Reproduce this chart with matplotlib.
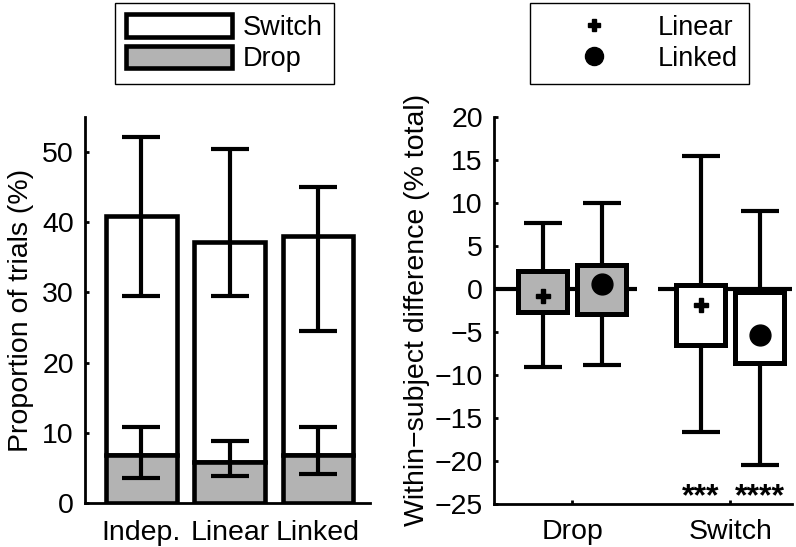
"""Stacked trial proportions and within-subject differences, two panels."""

import matplotlib

matplotlib.use("Agg")
import matplotlib.pyplot as plt
from matplotlib.lines import Line2D
from matplotlib.patches import Patch

plt.rcParams["font.family"] = ["Liberation Sans", "DejaVu Sans"]
plt.rcParams["font.size"] = 20.5

# left panel: proportion of trials (%)
CONDITIONS = ["Indep.", "Linear", "Linked"]
DROP_PCT = [6.8, 5.9, 6.8]
SWITCH_PCT = [34.1, 31.3, 31.3]
DROP_ERR_LO = [3.5, 3.9, 4.2]
DROP_ERR_HI = [10.8, 8.9, 10.9]
TOTAL_ERR_LO = [29.5, 29.5, 24.5]
TOTAL_ERR_HI = [52.2, 50.4, 45.0]

# right panel: within-subject difference (% total), [outcome][model]
OUTCOMES = ["Drop", "Switch"]
MODELS = ["Linear", "Linked"]
BOX_Q1 = [[-2.75, -2.9], [-6.5, -8.6]]
BOX_Q3 = [[2.1, 2.8], [0.47, -0.4]]
WHISK_LO = [[-9.1, -8.8], [-16.6, -20.5]]
WHISK_HI = [[7.6, 10.0], [15.4, 9.0]]
MEANS = [[-0.8, 0.6], [-1.9, -5.4]]
STARS = [["", ""], ["***", "****"]]

GRAY = "#b3b3b3"
MARKERS = {"Linear": dict(marker="P", markersize=10),
           "Linked": dict(marker="o", markersize=15)}
LEGEND_STYLE = dict(
    loc="upper left", borderaxespad=0, fancybox=False, edgecolor="black",
    framealpha=1, fontsize=19.5, handlelength=3.9, handleheight=0.9,
    handletextpad=0.4, borderpad=0.42, labelspacing=0.18,
)


def style_axis(axis):
    for side in ("top", "right"):
        axis.spines[side].set_visible(False)
    for side in ("left", "bottom"):
        axis.spines[side].set_linewidth(2)
    axis.tick_params(direction="in", length=3, width=2, pad=8)


def main():
    figure = plt.figure(figsize=(7.96, 5.47), dpi=100)
    figure.patch.set_facecolor("white")

    # ---- left panel
    left = figure.add_axes([0.1068, 0.0804, 0.358, 0.7057])
    style_axis(left)
    x = list(range(1, len(CONDITIONS) + 1))
    totals = [d + s for d, s in zip(DROP_PCT, SWITCH_PCT)]
    left.bar(x, SWITCH_PCT, bottom=DROP_PCT, width=0.8, color="white",
             edgecolor="black", linewidth=3.3, zorder=2)
    left.bar(x, DROP_PCT, width=0.8, color=GRAY,
             edgecolor="black", linewidth=3.3, zorder=2)
    left.errorbar(x, totals,
                  yerr=[[t - lo for t, lo in zip(totals, TOTAL_ERR_LO)],
                        [hi - t for t, hi in zip(totals, TOTAL_ERR_HI)]],
                  fmt="none", ecolor="black", elinewidth=3, capsize=14,
                  capthick=3, zorder=3)
    left.errorbar(x, DROP_PCT,
                  yerr=[[d - lo for d, lo in zip(DROP_PCT, DROP_ERR_LO)],
                        [hi - d for d, hi in zip(DROP_PCT, DROP_ERR_HI)]],
                  fmt="none", ecolor="black", elinewidth=3, capsize=14,
                  capthick=3, zorder=3)
    left.set_xlim(0.36, 3.59)
    left.set_ylim(0, 55)
    left.set_yticks([0, 10, 20, 30, 40, 50])
    left.set_xticks(x)
    left.set_xticklabels(CONDITIONS)
    left.tick_params(axis="x", length=0, pad=12)
    left.set_ylabel("Proportion of trials (%)", labelpad=6)

    figure.legend(
        handles=[Patch(facecolor="white", edgecolor="black", linewidth=3.3,
                       label="Switch"),
                 Patch(facecolor=GRAY, edgecolor="black", linewidth=3.3,
                       label="Drop")],
        bbox_to_anchor=(0.1445, 0.9945), **LEGEND_STYLE,
    ).get_frame().set_linewidth(1)

    # ---- right panel
    right = figure.add_axes([0.6206, 0.0786, 0.3744, 0.7081])
    style_axis(right)
    offsets = [-0.187, 0.187]
    for g, outcome in enumerate(OUTCOMES):
        centre = g + 1
        right.hlines(0, centre - 0.49 if g == 0 else centre - 0.46,
                     centre + 0.41 if g == 0 else centre + 0.45,
                     color="black", linewidth=3, zorder=1)
        for m, model in enumerate(MODELS):
            pos = centre + offsets[m]
            q1, q3 = BOX_Q1[g][m], BOX_Q3[g][m]
            right.errorbar([pos], [q1],
                           yerr=[[q1 - WHISK_LO[g][m]],
                                 [WHISK_HI[g][m] - q1]],
                           fmt="none", ecolor="black", elinewidth=3,
                           capsize=14, capthick=3, zorder=2)
            right.bar([pos], [q3 - q1], bottom=[q1], width=0.31,
                      color=GRAY if outcome == "Drop" else "white",
                      edgecolor="black", linewidth=3.6, zorder=3)
            right.plot([pos], [MEANS[g][m]], linestyle="none",
                       color="black", zorder=4, **MARKERS[model])
            if STARS[g][m]:
                right.text(pos, -25.2, STARS[g][m], ha="center",
                           va="baseline", fontsize=23, fontweight="bold",
                           clip_on=False, zorder=5)
    right.set_xlim(0.506, 2.39)
    right.set_ylim(-25, 20)
    right.set_yticks(range(-25, 21, 5))
    right.set_xticks([1, 2])
    right.set_xticklabels(OUTCOMES)
    right.tick_params(axis="x", pad=11)
    right.set_ylabel("Within\u2212subject difference (% total)", labelpad=3)

    figure.legend(
        handles=[Line2D([0], [0], color="black", linestyle="none",
                        marker="P", markersize=9, label="Linear"),
                 Line2D([0], [0], color="black", linestyle="none",
                        marker="o", markersize=13, label="Linked")],
        bbox_to_anchor=(0.6658, 0.9945), **LEGEND_STYLE,
    ).get_frame().set_linewidth(1)

    figure.savefig("out.png", dpi=100, facecolor="white")
    plt.close(figure)


if __name__ == "__main__":
    main()
